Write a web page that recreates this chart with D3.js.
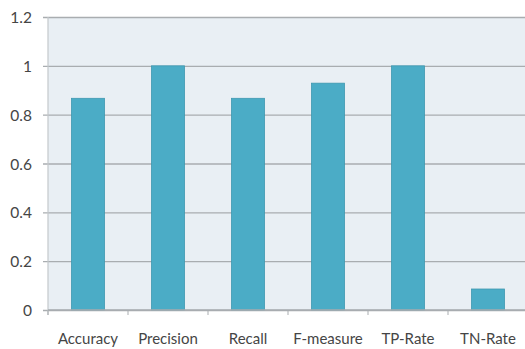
<!DOCTYPE html>
<html>
<head>
<meta charset="utf-8">
<script src="https://cdn.jsdelivr.net/npm/d3@7"></script>
<style>
  body { margin: 0; background: #fff; }
  svg { display: block; }
  text { font-family: Lato, "Open Sans", sans-serif; fill: #454545; }
</style>
</head>
<body>
<svg id="chart" width="525" height="349"></svg>
<script>
// Classifier evaluation metrics
const categories = ["Accuracy", "Precision", "Recall", "F-measure", "TP-Rate", "TN-Rate"];
const values = [0.867, 1.0, 0.867, 0.929, 1.0, 0.086];
const yTicks = [0, 0.2, 0.4, 0.6, 0.8, 1, 1.2];

const svg = d3.select("#chart");
const margin = { left: 48, top: 17, right: -3, bottom: 39 };
const W = 525, H = 349;
const plotW = W - margin.left - margin.right;
const plotH = H - margin.top - margin.bottom;

const x = d3.scaleBand().domain(categories).range([0, plotW]).paddingInner(0.5875).paddingOuter(0.29375);
const y = d3.scaleLinear().domain([0, 1.2]).range([plotH, 0]);

const g = svg.append("g").attr("transform", `translate(${margin.left},${margin.top})`);

// plot background
g.append("rect").attr("x", 0).attr("y", 0).attr("width", plotW).attr("height", plotH)
  .attr("fill", "#e9eff4");

// horizontal gridlines with short left ticks
const yAxis = d3.axisLeft(y).tickValues(yTicks).tickSize(-plotW - 5)
  .tickFormat(d => d3.format("~g")(d));
const ya = g.append("g").attr("transform", "translate(-5,0)").call(yAxis);
ya.select(".domain").remove();
ya.selectAll(".tick line").attr("stroke", "#a9adb0").attr("stroke-width", 1.3);
ya.selectAll(".tick text").attr("font-size", 15.5).attr("x", -11).attr("dy", "0.36em");

// left axis line
g.append("line").attr("x1", 0).attr("x2", 0).attr("y1", 0).attr("y2", plotH + 5)
  .attr("stroke", "#c4c8cb").attr("stroke-width", 1.2);

// bars
g.selectAll("rect.bar").data(values).join("rect")
  .attr("class", "bar")
  .attr("x", (d, i) => x(categories[i]))
  .attr("width", x.bandwidth())
  .attr("y", d => y(d))
  .attr("height", d => plotH - y(d))
  .attr("fill", "#4bacc6")
  .attr("stroke", "#3f98b0")
  .attr("stroke-width", 0.8);

// category ticks at band boundaries
const boundaries = d3.range(categories.length + 1).map(i => i * plotW / categories.length);
g.selectAll("line.ctick").data(boundaries).join("line")
  .attr("class", "ctick")
  .attr("x1", d => d).attr("x2", d => d)
  .attr("y1", plotH).attr("y2", plotH + 5)
  .attr("stroke", "#a9adb0").attr("stroke-width", 1);

// axis baseline
g.append("line").attr("x1", 0).attr("x2", plotW).attr("y1", plotH).attr("y2", plotH)
  .attr("stroke", "#a9adb0").attr("stroke-width", 1.3);

// category labels
g.selectAll("text.cat").data(categories).join("text")
  .attr("class", "cat")
  .attr("x", d => x(d) + x.bandwidth() / 2)
  .attr("y", plotH + 34)
  .attr("text-anchor", "middle")
  .attr("font-size", 15)
  .text(d => d);
</script>
</body>
</html>
